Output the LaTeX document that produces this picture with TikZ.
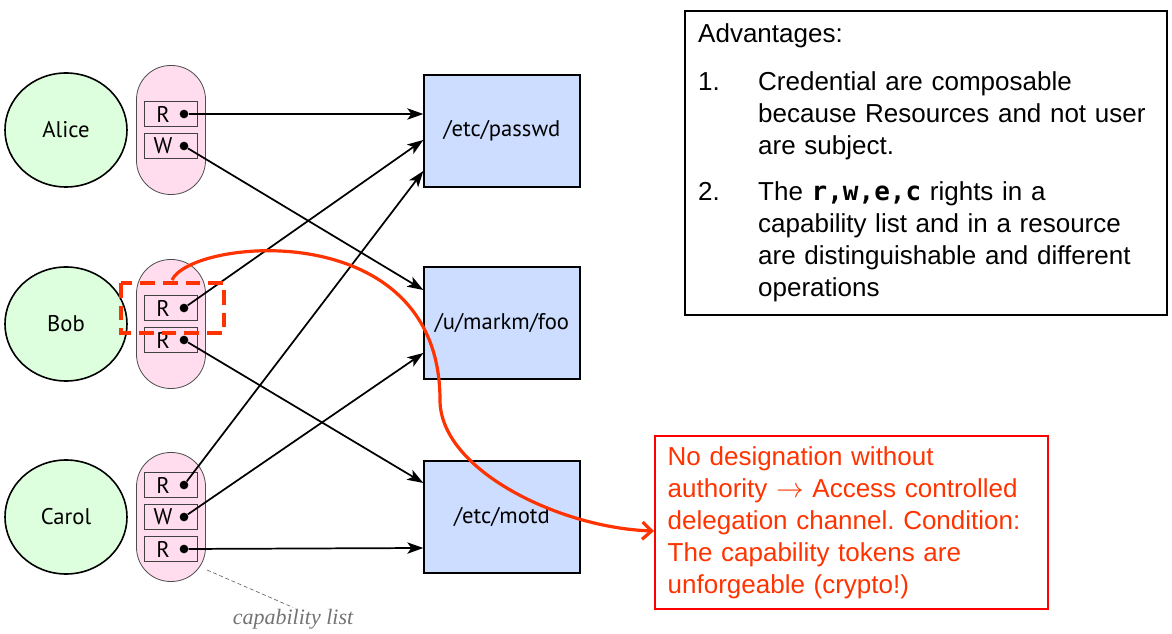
\documentclass[tikz,border=0pt]{standalone}
\usepackage{fontspec}
\setmainfont{Liberation Sans}
\setmonofont{DejaVu Sans Mono}
\newfontfamily\diafont{PT Sans}
\newfontfamily\capfont{Liberation Serif}
\usetikzlibrary{arrows.meta,calc,shapes.geometric}
\frenchspacing

\definecolor{userGreen}{RGB}{221,255,221}
\definecolor{capPink}{RGB}{255,221,238}
\definecolor{resBlue}{RGB}{204,221,255}
\definecolor{noteRed}{RGB}{255,51,0}
\definecolor{boxRed}{RGB}{255,0,0}

\begin{document}
\begin{tikzpicture}[x=0.75pt,y=0.75pt,yscale=-1,xscale=1,
    user/.style={ellipse, draw, line width=1.2pt, fill=userGreen, minimum width=91.5pt, minimum height=85.5pt, inner sep=0pt, font=\diafont\fontsize{17}{20}\selectfont},
    capsule/.style={rectangle, rounded corners=25.5pt, draw=black!70, line width=0.6pt, fill=capPink, minimum width=51.75pt, minimum height=96.75pt},
    capbox/.style={rectangle, draw=black!75, line width=0.6pt, minimum width=39.75pt, minimum height=18.75pt, inner sep=0pt},
    capletter/.style={inner sep=0pt, font=\diafont\fontsize{17}{20}\selectfont},
    capdot/.style={circle, fill=black, inner sep=0pt, minimum size=6.5pt},
    resource/.style={rectangle, draw, line width=1pt, fill=resBlue, minimum width=117pt, minimum height=84pt, font=\diafont\fontsize{17}{20}\selectfont},
    right/.style={line width=1.3pt, -{Stealth[length=12pt,width=8.5pt,inset=3pt]}},
    advbox/.style={rectangle, draw, line width=1.8pt, minimum width=361.5pt, minimum height=228pt, inner xsep=9.75pt, text width=342pt, align=left, font=\fontsize{19.5}{24}\selectfont},
    notebox/.style={rectangle, draw=boxRed, line width=1.8pt, minimum width=294.75pt, minimum height=129.75pt, inner xsep=9pt, text width=276pt, align=left, text=noteRed, font=\fontsize{19.5}{24}\selectfont},
    deleg/.style={draw=noteRed, line width=2.4pt, -{Straight Barb[length=7pt,width=13pt]}},
  ]
  \useasboundingbox (0,0) rectangle (1172,634);

  %Shape: Ellipse (users)
  \node[user] (alice) at (66,130) {Alice};
  \node[user] (bob) at (66,324) {Bob};
  \node[user] (carol) at (66,517) {Carol};

  %Shape: Capsule (capability lists)
  \node[capsule] (aCap) at (171,130) {};
  \node[capsule] (bCap) at (171,324) {};
  \node[capsule] (cCap) at (171,517) {};

  %Capability entries of Alice
  \node[capbox] (aR) at (171,114) {};
  \node[capletter] at ([xshift=-6pt]aR.center) {R};
  \node[capdot] (aRd) at ([xshift=9.75pt]aR.center) {};
  \node[capbox] (aW) at (171,146) {};
  \node[capletter] at ([xshift=-6pt]aW.center) {W};
  \node[capdot] (aWd) at ([xshift=9.75pt]aW.center) {};

  %Capability entries of Bob
  \node[capbox] (bR) at (171,308) {};
  \node[capletter] at ([xshift=-6pt]bR.center) {R};
  \node[capdot] (bRd) at ([xshift=9.75pt]bR.center) {};
  \node[capbox] (bRb) at (171,340) {};
  \node[capletter] at ([xshift=-6pt]bRb.center) {R};
  \node[capdot] (bRbd) at ([xshift=9.75pt]bRb.center) {};

  %Capability entries of Carol
  \node[capbox] (cR) at (171,485) {};
  \node[capletter] at ([xshift=-6pt]cR.center) {R};
  \node[capdot] (cRd) at ([xshift=9.75pt]cR.center) {};
  \node[capbox] (cW) at (171,517) {};
  \node[capletter] at ([xshift=-6pt]cW.center) {W};
  \node[capdot] (cWd) at ([xshift=9.75pt]cW.center) {};
  \node[capbox] (cRb) at (171,549) {};
  \node[capletter] at ([xshift=-6pt]cRb.center) {R};
  \node[capdot] (cRbd) at ([xshift=9.75pt]cRb.center) {};

  %Shape: Rectangle (resources)
  \node[resource] (passwd) at (502,131) {/etc/passwd};
  \node[resource] (foo) at (502,323) {/u/markm/foo};
  \node[resource] (motd) at (502,517) {/etc/motd};

  %Straight Lines (capabilities to resources)
  \draw[right] (aRd) -- (passwd.west |- 0,114);
  \draw[right] (aWd) -- (foo.west |- 0,290);
  \draw[right] (bRd) -- (passwd.west |- 0,140);
  \draw[right] (bRbd) -- (motd.west |- 0,483);
  \draw[right] (cRd) -- (passwd.west |- 0,171);
  \draw[right] (cWd) -- (foo.west |- 0,353);
  \draw[right] (cRbd) -- (motd.west |- 0,548);

  % Text Node
  \node[inner sep=1pt, text=black!55, font=\capfont\itshape\fontsize{16.5}{18}\selectfont] (capLbl) at (293,619) {capability list};
  \coordinate (capTip) at (207,570);
  \draw[black!60, line width=0.5pt, dash pattern=on 3pt off 2pt] (capTip) -- (capLbl.north);

  % Text Node
  \node[advbox, anchor=north west] (adv) at (684,10) {%
    \begin{tabular}{@{}p{45pt}@{}l@{}}
    \multicolumn{2}{@{}l@{}}{Advantages:}\\[12pt]
    1. & Credential are composable\\
       & because Resources and not user\\
       & are subject.\\[10.5pt]
    2. & The \texttt{\bfseries r,w,e,c} rights in a\\
       & capability list and in a resource\\
       & are distinguishable and different\\
       & operations
    \end{tabular}};

  % Text Node
  \node[notebox, anchor=north west] (note) at (654,435) {No designation without\\
    authority $\rightarrow$ Access controlled\\
    delegation channel. Condition:\\
    The capability tokens are\\
    unforgeable (crypto!)};

  %Shape: Dashed Rectangle (delegated entry)
  \draw[noteRed, line width=2.6pt, dash pattern=on 11pt off 6pt] (121,283) rectangle (224,333);

  %Shape: Bezier Curve (delegation)
  \coordinate (bobStart) at (172,280);
  \draw[deleg] (bobStart) .. controls (192,238) and (440,215) .. (440,400) .. controls (440,470) and (560,528) .. (note.west |- 0,531);

\end{tikzpicture}
\end{document}
